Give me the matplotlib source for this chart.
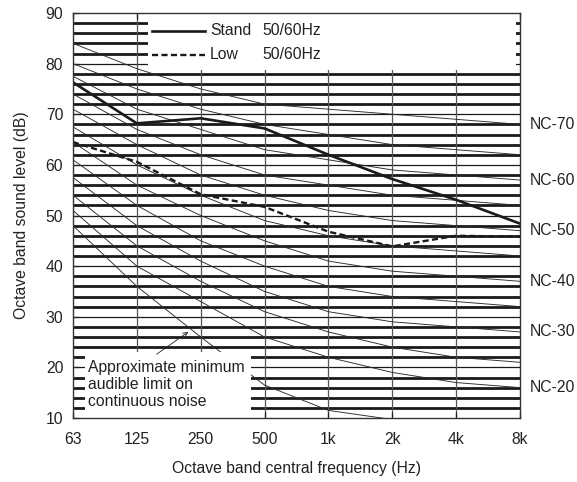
import matplotlib
matplotlib.use("Agg")
import matplotlib.pyplot as plt
from matplotlib.patches import Rectangle

plt.rcParams['font.family'] = ['Liberation Sans', 'DejaVu Sans']

# ---- data ----
freq_labels = ['63', '125', '250', '500', '1k', '2k', '4k', '8k']
nc_names = ['NC-70', 'NC-65', 'NC-60', 'NC-55', 'NC-50', 'NC-45',
            'NC-40', 'NC-35', 'NC-30', 'NC-25', 'NC-20']
nc_70 = [84, 79, 75, 72, 71, 70, 69, 68]
nc_65 = [80, 75, 71, 68, 66, 64, 63, 62]
nc_60 = [77.5, 71, 67, 63, 61, 59, 58, 57]
nc_55 = [74, 67, 62, 58, 56, 54, 53, 52]
nc_50 = [71, 64, 58, 54, 51, 49, 48, 47]
nc_45 = [67.5, 60, 54, 49, 46, 44, 43, 42]
nc_40 = [64.5, 56, 50, 45, 41, 39, 38, 37]
nc_35 = [61, 52, 45, 40, 36, 34, 33, 32]
nc_30 = [57.5, 48, 41, 35, 31, 29, 28, 27]
nc_25 = [54, 44, 37, 31, 27, 24, 22, 21]
nc_20 = [51, 40, 33, 26, 22, 19, 17, 16]
nc_curves = [nc_70, nc_65, nc_60, nc_55, nc_50, nc_45,
             nc_40, nc_35, nc_30, nc_25, nc_20]
labelled_nc = ['NC-70', 'NC-60', 'NC-50', 'NC-40', 'NC-30', 'NC-20']
threshold = [48, 36, 26, 16.5, 11.5, 9.7]          # 63 Hz .. 2k
stand = [76.3, 68.2, 69.2, 67.2, 62.0, 57.2, 53.1, 48.4]
low = [64.5, 60.6, 54.2, 51.7, 46.8, 43.9, 46.0, 45.8]
band_levels = list(range(12, 90, 2))
y_ticks = list(range(10, 100, 10))

# ---- figure ----
fig = plt.figure(figsize=(5.77, 4.82), dpi=100)
ax = fig.add_axes([73 / 577, 1 - 418 / 482, 447 / 577, 405 / 482])
x = list(range(len(freq_labels)))

ink = '#1a1a1a'
for lv in band_levels:
    ax.axhline(lv, color=ink, lw=(0.9 if lv % 10 == 0 else 2.0), zorder=1)
for i in x[1:-1]:
    ax.axvline(i, color='#555555', lw=0.9, zorder=1.5)

for vals in nc_curves:
    ax.plot(x, vals, color='#2a2a2a', lw=0.65, zorder=2)
ax.plot(x[:len(threshold)], threshold, color='#2a2a2a', lw=0.65, zorder=2)

ax.plot(x, stand, color=ink, lw=1.9, zorder=2.5, solid_joinstyle='miter')
ax.plot(x, low, color=ink, lw=1.7, zorder=2.5, dashes=(2.6, 1.4))

# white masks (legend area and annotation area)
ax.add_patch(Rectangle((1.17, 78.7), 6.945 - 1.17, 11.3, facecolor='white',
                       edgecolor='none', zorder=3))
ax.add_patch(Rectangle((0.19, 10), 2.78 - 0.19, 13.0, facecolor='white',
                       edgecolor='none', zorder=3))

# legend (manual)
fs = 11.3
ax.plot([0.1767, 0.2953], [0.9556, 0.9556], transform=ax.transAxes,
        color=ink, lw=1.9, zorder=5)
ax.plot([0.1767, 0.2953], [0.8963, 0.8963], transform=ax.transAxes,
        color=ink, lw=1.7, dashes=(2.6, 1.4), zorder=5)
for yy, name in [(0.9556, 'Stand'), (0.8963, 'Low')]:
    ax.text(0.3065, yy, name, transform=ax.transAxes, va='center', ha='left',
            fontsize=fs, color='#222222', zorder=6)
    ax.text(0.4228, yy, '50/60Hz', transform=ax.transAxes, va='center',
            ha='left', fontsize=fs, color='#222222', zorder=6)

# NC labels
for name, vals in zip(nc_names, nc_curves):
    if name in labelled_nc:
        ax.annotate(name, xy=(x[-1], vals[-1]), xytext=(7.0, 0),
                    textcoords='offset points', va='center', ha='left',
                    fontsize=fs, color='#222222', annotation_clip=False)

# annotation
ax.text(0.235, 16.6, 'Approximate minimum\naudible limit on\ncontinuous noise',
        va='center', ha='left', fontsize=fs, color='#222222',
        linespacing=1.15, zorder=6)
ax.annotate('', xy=(1.805, 27.0), xytext=(1.31, 22.6),
            arrowprops=dict(arrowstyle='->', lw=0.6, color='#222222',
                            mutation_scale=8, shrinkA=0, shrinkB=0),
            zorder=6)

ax.set_xlim(0, 7)
ax.set_ylim(10, 90)
ax.set_xticks(x)
ax.set_xticklabels(freq_labels)
ax.set_yticks(y_ticks)
ax.tick_params(direction='in', top=True, right=False, length=4, width=0.9,
               labelsize=fs, colors='#222222', pad=7)
ax.tick_params(axis='x', pad=10)
for s in ax.spines.values():
    s.set_color('#333333')
    s.set_linewidth(1.0)
    s.set_zorder(7)

ax.set_xlabel('Octave band central frequency (Hz)', fontsize=fs,
              color='#222222', labelpad=10)
ax.set_ylabel('Octave band sound level (dB)', fontsize=fs, color='#222222',
              labelpad=12)

fig.savefig('out.png', dpi=100)
